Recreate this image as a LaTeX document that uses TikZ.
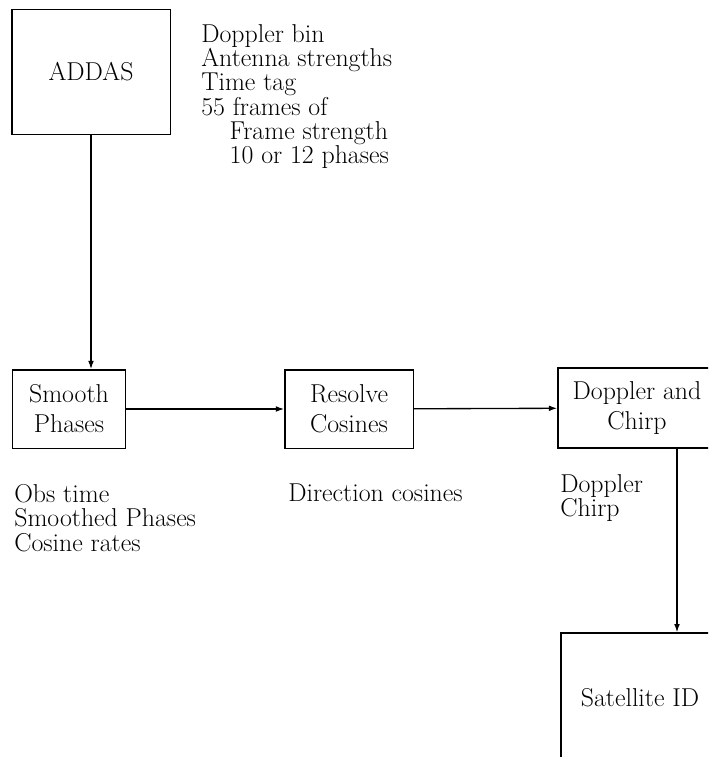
\documentclass[tikz,border=0pt]{standalone}
\usepackage{tikz}
\usetikzlibrary{arrows.meta,positioning}

\begin{document}
\begin{tikzpicture}[
  x=0.6pt, y=-0.6pt,
  font=\fontsize{15.5pt}{14.6pt}\selectfont,
  block/.style={rectangle, draw, thick, align=center, inner sep=2pt, minimum height=47pt,
    font=\fontsize{15.5pt}{18pt}\selectfont},
  note/.style={align=left, anchor=north west, inner sep=0pt},
  arrow/.style={-{Latex[length=5pt,width=3.5pt]}, thick}
]
\useasboundingbox (0,0) rectangle (708,757);
\clip (0,0) rectangle (708,757);
\node[block, minimum width=95pt, minimum height=75pt] (addas) at (91,72) {ADDAS};
\node[block, minimum width=68pt] (smooth) at (69,409) {Smooth\\Phases};
\node[block, minimum width=77pt] (resolve) at (349,409) {Resolve\\Cosines};
\node[block, minimum width=95pt, minimum height=48pt] (dopchirp) at (637,408) {Doppler and\\Chirp};
\node[block, minimum width=95pt, minimum height=78pt] (satid) at (640,698) {Satellite ID};
% data passed along
\node[note] (addasout) at (201,24) {Doppler bin\\Antenna strengths\\Time tag\\55 frames of\\\hspace*{1.1em}Frame strength\\\hspace*{1.1em}10 or 12 phases};
\node[note] (smoothout) at (14,484) {Obs time\\Smoothed Phases\\Cosine rates};
\node[note] (resolveout) at (288,484) {Direction cosines};
\node[note] (dopout) at (560,474) {Doppler\\Chirp};
\draw[arrow] (addas) -- (addas |- smooth.north);
\draw[arrow] (smooth) -- (resolve);
\draw[arrow] (resolve) -- (dopchirp);
\draw[arrow] ([xshift=24pt]dopchirp.south) -- ([xshift=24pt]dopchirp.south |- satid.north);
\end{tikzpicture}
\end{document}
